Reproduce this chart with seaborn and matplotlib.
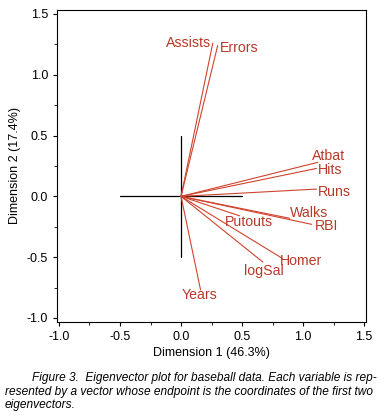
import pandas as pd
import matplotlib
matplotlib.use("Agg")
import matplotlib.pyplot as plt
import seaborn as sns
from matplotlib.ticker import MultipleLocator, FormatStrFormatter

# eigenvector endpoints (dimension 1, dimension 2)
variables = ['Assists', 'Errors', 'Atbat', 'Hits', 'Runs', 'Walks', 'RBI',
             'Putouts', 'Homer', 'logSal', 'Years']
dim1 = [0.26, 0.30, 1.12, 1.11, 1.11, 0.89, 1.07, 0.48, 0.83, 0.67, 0.16]
dim2 = [1.26, 1.24, 0.28, 0.23, 0.06, -0.18, -0.23, -0.16, -0.51, -0.54, -0.77]

# label placement (pixel offsets from the endpoint, alignment)
label_style = {
    'Assists': (-2, 0, 'right'),
    'Errors': (2, -2, 'left'),
    'Atbat': (-6, 6, 'left'),
    'Hits': (1, -2, 'left'),
    'Runs': (1, -3, 'left'),
    'Walks': (0, 5, 'left'),
    'RBI': (3, -2, 'left'),
    'Putouts': (-15, -6, 'left'),
    'Homer': (-2, -3, 'left'),
    'logSal': (1, -9, 'center'),
    'Years': (-1, -5, 'center'),
}

sns.set_style("ticks")
plt.rcParams['font.family'] = ['Liberation Sans', 'DejaVu Sans']
plt.rcParams['text.color'] = 'black'
plt.rcParams['axes.labelcolor'] = 'black'
plt.rcParams['xtick.color'] = 'black'
plt.rcParams['ytick.color'] = 'black'
plt.rcParams['axes.edgecolor'] = 'black'

# long-form table: each vector is a segment from the origin
rows = []
for v, x, y in zip(variables, dim1, dim2):
    rows.append({'var': v, 'd1': 0.0, 'd2': 0.0})
    rows.append({'var': v, 'd1': x, 'd2': y})
seg = pd.DataFrame(rows)

fig = plt.figure(figsize=(3.85, 4.16), dpi=100)
ax = fig.add_axes([0.148, 0.226, 0.803, 0.750])

line_col = '#d0442e'
text_col = '#b8392a'

# reference cross
ax.plot([-0.5, 0.5], [0, 0], color='black', lw=0.9)
ax.plot([0, 0], [-0.5, 0.5], color='black', lw=0.9)

sns.lineplot(data=seg, x='d1', y='d2', units='var', estimator=None,
             sort=False, color=line_col, lw=0.8, ax=ax)

for v, x, y in zip(variables, dim1, dim2):
    dx, dy, ha = label_style[v]
    ax.annotate(v, (x, y), xytext=(dx, dy), textcoords='offset pixels',
                ha=ha, va='center', color=text_col, fontsize=10.2)

ax.set_xlim(-1.016, 1.516)
ax.set_ylim(-1.033, 1.533)
ax.xaxis.set_major_locator(MultipleLocator(0.5))
ax.yaxis.set_major_locator(MultipleLocator(0.5))
ax.xaxis.set_minor_locator(MultipleLocator(0.25))
ax.yaxis.set_minor_locator(MultipleLocator(0.25))
ax.xaxis.set_major_formatter(FormatStrFormatter('%.1f'))
ax.yaxis.set_major_formatter(FormatStrFormatter('%.1f'))
ax.tick_params(labelsize=9, length=3, width=0.8)
ax.tick_params(which='minor', length=2, width=0.6)
for s in ax.spines.values():
    s.set_linewidth(0.8)
ax.set_xlabel('Dimension 1 (46.3%)', fontsize=9, labelpad=3)
ax.set_ylabel('Dimension 2 (17.4%)', fontsize=9)

cap_kw = dict(fontsize=8.6, style='italic', ha='left', va='center')
fig.text(32 / 385, 1 - 378 / 416,
         'Figure 3.  Eigenvector plot for baseball data. Each variable is rep-', **cap_kw)
fig.text(5 / 385, 1 - 392 / 416,
         'resented by a vector whose endpoint is the coordinates of the first two', **cap_kw)
fig.text(5 / 385, 1 - 405 / 416, 'eigenvectors.', **cap_kw)

fig.savefig('out.png', dpi=100)
